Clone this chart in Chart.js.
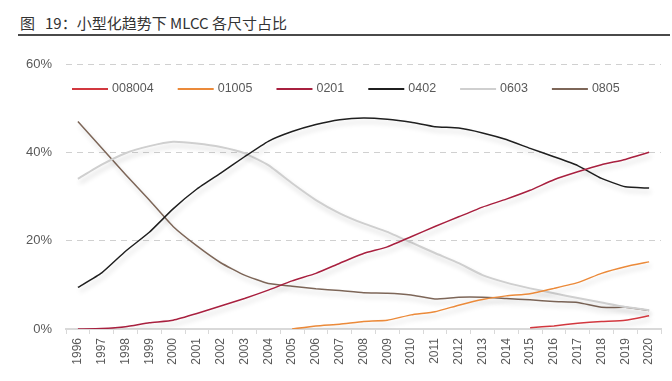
<!DOCTYPE html>
<html>
<head>
<meta charset="utf-8">
<script src="https://cdn.jsdelivr.net/npm/chart.js@4.4.1/dist/chart.umd.min.js"></script>
<style>
  html, body { margin: 0; padding: 0; background: #fff; }
  #wrap { position: relative; width: 672px; height: 381px; overflow: hidden; }
  #title { position: absolute; left: 20px; top: 12px; font: 15px "Noto Sans CJK SC", "Noto Sans", sans-serif; color: #333; white-space: nowrap; }
  #title .n { margin-left: 10px; }
  #rule { position: absolute; left: 18px; top: 34px; width: 652px; height: 2px; background: #4a4a4a; }
  canvas { position: absolute; left: 0; top: 0; }
</style>
</head>
<body>
<div id="wrap">
  <div id="title">图<span class="n">19：</span>小型化趋势下 MLCC 各尺寸占比</div>
  <div id="rule"></div>
  <canvas id="c" width="672" height="381"></canvas>
</div>
<script>
const years = ["1996","1997","1998","1999","2000","2001","2002","2003","2004","2005","2006","2007","2008","2009","2010","2011","2012","2013","2014","2015","2016","2017","2018","2019","2020"];
const yTicks = [0, 20, 40, 60];
const s008004 = [null,null,null,null,null,null,null,null,null,null,null,null,null,null,null,null,null,null,null,0.3,0.7,1.3,1.7,2.0,3.0];
const s01005 = [null,null,null,null,null,null,null,null,null,0,0.7,1.1,1.7,2.0,3.2,3.9,5.4,6.7,7.5,8.0,9.2,10.5,12.6,14.1,15.2];
const s0201 = [0,0.1,0.5,1.4,2.0,3.5,5.2,6.9,8.8,10.9,12.6,14.9,17.1,18.6,20.9,23.2,25.4,27.6,29.4,31.4,33.8,35.6,37.2,38.4,40.0];
const s0402 = [9.4,12.7,17.6,21.9,27.2,31.7,35.3,39.0,42.5,44.7,46.3,47.4,47.8,47.5,46.8,45.8,45.5,44.4,42.9,40.9,39.0,37.0,34.1,32.2,31.9];
const s0603 = [34.0,37.2,39.8,41.4,42.4,42.0,41.2,39.8,37.1,33.0,29.2,26.2,23.9,22.0,19.6,17.2,14.9,12.2,10.5,9.2,8.1,7.0,6.0,5.0,4.3];
const s0805 = [47.0,41.0,35.0,29.2,23.2,18.8,15.0,12.2,10.3,9.7,9.1,8.7,8.2,8.1,7.7,6.8,7.2,7.2,6.9,6.6,6.2,6.0,4.9,4.9,4.2];

const series = [
  { label: "008004", data: s008004, color: "#d2383f", w: 1.5 },
  { label: "01005", data: s01005, color: "#eb8a3a", w: 1.5 },
  { label: "0201", data: s0201, color: "#a8203f", w: 1.5 },
  { label: "0402", data: s0402, color: "#1f1f1f", w: 1.5 },
  { label: "0603", data: s0603, color: "#cfcfcf", w: 2 },
  { label: "0805", data: s0805, color: "#7d6658", w: 1.5 }
];

const shadowPlugin = {
  id: "shadow",
  beforeDatasetDraw(chart) {
    const ctx = chart.ctx;
    ctx.save();
    ctx.shadowColor = "rgba(0,0,0,0.18)";
    ctx.shadowBlur = 5;
    ctx.shadowOffsetX = 2;
    ctx.shadowOffsetY = 4;
  },
  afterDatasetDraw(chart) {
    chart.ctx.restore();
  }
};

const legendPlugin = {
  id: "inlineLegend",
  afterDatasetsDraw(chart) {
    const ctx = chart.ctx;
    const area = chart.chartArea;
    ctx.save();
    ctx.font = "12.5px 'Liberation Sans', Arial, sans-serif";
    ctx.textBaseline = "middle";
    let x = area.left + 6;
    const y = area.top + 25;
    chart.data.datasets.forEach(d => {
      ctx.strokeStyle = d.borderColor;
      ctx.lineWidth = 2;
      ctx.beginPath();
      ctx.moveTo(x, y);
      ctx.lineTo(x + 36, y);
      ctx.stroke();
      ctx.fillStyle = "#595959";
      ctx.fillText(d.label, x + 40, y);
      x += 40 + ctx.measureText(d.label).width + 24;
    });
    ctx.restore();
  }
};

new Chart(document.getElementById("c"), {
  type: "line",
  data: {
    labels: years,
    datasets: series.map(s => ({
      label: s.label,
      data: s.data,
      borderColor: s.color,
      backgroundColor: s.color,
      borderWidth: s.w,
      pointRadius: 0,
      tension: 0.15,
      fill: false,
      spanGaps: false
    }))
  },
  options: {
    responsive: false,
    animation: false,
    layout: { padding: { top: 64, right: 11, left: 0, bottom: 0 } },
    plugins: {
      title: { display: false },
      tooltip: { enabled: false },
      legend: { display: false }
    },
    scales: {
      x: {
        offset: true,
        grid: { display: true, drawOnChartArea: false, drawTicks: true, tickLength: 5, color: "#d9d9d9", offset: true },
        border: { display: true, color: "#d9d9d9", width: 2 },
        ticks: {
          minRotation: 90, maxRotation: 90, autoSkip: false, padding: 4,
          color: "#595959",
          font: { family: "Liberation Sans, Arial, sans-serif", size: 12 }
        },
        afterFit(scale) { scale.height = 52; }
      },
      y: {
        min: 0, max: 60,
        afterBuildTicks(scale) { scale.ticks = yTicks.map(v => ({ value: v })); },
        grid: {
          color(ctx) { return ctx.tick && ctx.tick.value === 0 ? "rgba(0,0,0,0)" : "#d0d0d0"; },
          drawTicks: false,
          lineWidth: 1
        },
        border: { display: false, dash: [6, 5] },
        ticks: {
          padding: 14,
          color: "#595959",
          font: { family: "Liberation Sans, Arial, sans-serif", size: 13 },
          callback(v) { return v + "%"; }
        },
        afterFit(scale) { scale.width = 66; }
      }
    }
  },
  plugins: [shadowPlugin, legendPlugin]
});
</script>
</body>
</html>
